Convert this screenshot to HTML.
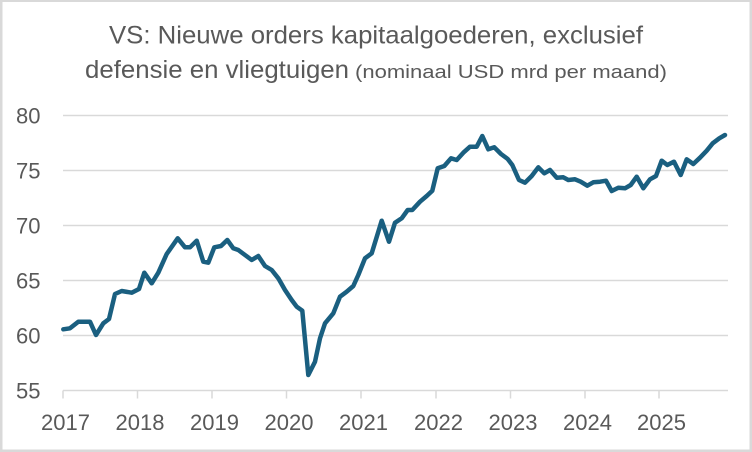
<!DOCTYPE html>
<html>
<head>
<meta charset="utf-8">
<style>
  html, body { margin:0; padding:0; background:#fff; }
  body { width:752px; height:452px; overflow:hidden; }
  svg { display:block; }
  .t { font-family: "Liberation Sans Narrow", "Liberation Sans", sans-serif; fill:#595959; }
  .ax { font-family: "Liberation Sans", sans-serif; fill:#595959; font-size:22px; }
</style>
</head>
<body>
<svg width="752" height="452" viewBox="0 0 752 452" xmlns="http://www.w3.org/2000/svg">
  <rect x="0" y="0" width="752" height="452" fill="#ffffff"/>
  <!-- outer border -->
  <rect x="1.25" y="0.75" width="749.5" height="450" fill="none" stroke="#d9d9d9" stroke-width="2.5"/>

  <!-- title -->
  <text class="t" x="109" y="43.5" font-size="25" textLength="534" lengthAdjust="spacingAndGlyphs">VS: Nieuwe orders kapitaalgoederen, exclusief</text>
  <text class="t" x="85" y="78" font-size="25" textLength="264" lengthAdjust="spacingAndGlyphs">defensie en vliegtuigen</text>
  <text class="t" x="355" y="78" font-size="18.5" textLength="312" lengthAdjust="spacingAndGlyphs">(nominaal USD mrd per maand)</text>

  <!-- gridlines -->
  <g stroke="#d9d9d9" stroke-width="1.5">
    <line x1="63" y1="115.5" x2="728" y2="115.5"/>
    <line x1="63" y1="170.5" x2="728" y2="170.5"/>
    <line x1="63" y1="225.5" x2="728" y2="225.5"/>
    <line x1="63" y1="280.5" x2="728" y2="280.5"/>
    <line x1="63" y1="335.5" x2="728" y2="335.5"/>
    <line x1="63" y1="390.5" x2="728" y2="390.5"/>
    <!-- ticks -->
    <line x1="63" y1="390.5" x2="63" y2="398.5"/>
    <line x1="137.5" y1="390.5" x2="137.5" y2="398.5"/>
    <line x1="212" y1="390.5" x2="212" y2="398.5"/>
    <line x1="286.5" y1="390.5" x2="286.5" y2="398.5"/>
    <line x1="361" y1="390.5" x2="361" y2="398.5"/>
    <line x1="436" y1="390.5" x2="436" y2="398.5"/>
    <line x1="510.5" y1="390.5" x2="510.5" y2="398.5"/>
    <line x1="585" y1="390.5" x2="585" y2="398.5"/>
    <line x1="659" y1="390.5" x2="659" y2="398.5"/>
  </g>

  <!-- y labels -->
  <g class="ax" text-anchor="end">
    <text x="40.5" y="123.5">80</text>
    <text x="40.5" y="178.5">75</text>
    <text x="40.5" y="233.5">70</text>
    <text x="40.5" y="288.5">65</text>
    <text x="40.5" y="343.5">60</text>
    <text x="40.5" y="398.5">55</text>
  </g>

  <!-- x labels -->
  <g class="ax" text-anchor="middle">
    <text x="65.5" y="430">2017</text>
    <text x="140" y="430">2018</text>
    <text x="214.5" y="430">2019</text>
    <text x="289" y="430">2020</text>
    <text x="363.5" y="430">2021</text>
    <text x="438.5" y="430">2022</text>
    <text x="513" y="430">2023</text>
    <text x="587.5" y="430">2024</text>
    <text x="661.5" y="430">2025</text>
  </g>

  <!-- series -->
  <polyline fill="none" stroke="#1a5f80" stroke-width="4.5" stroke-linejoin="round" stroke-linecap="round"
    points="63.3,329.3 70,328.3 78.3,321.7 90,321.7 96,335 103.3,323.3 109,319 115,294 121.7,291 131.7,292.7 139,289 144.3,272.7 151.7,283.3 158.3,272.7 166.7,254 177.7,238.3 185,247.3 190,247.3 196.7,240.7 203.3,261.7 208.3,262.7 214.3,247.3 221,246 227.3,240 233.3,248.3 238.3,250 245,255 251.7,260 258.3,256 265,266 271.7,270 278.3,278.3 285,290 291.7,300 296.7,306.7 302.3,310.7 308.3,375 315,361.7 320,338.3 325,323.3 333.3,313.3 340,296.7 346.7,291.7 353.3,286 358.3,275 365,258.3 371.7,253.3 381.7,220.7 389,241.7 395,222.7 401.7,218.3 407.7,210 412.3,210 420,201.7 426.7,196 432.3,190.7 437.7,168.3 444.3,166 451,158.3 456.7,160 463.3,152.7 470,146.7 476.7,146.7 482.3,136 488.3,149.3 494.3,147.3 501,154 507.7,159 512.3,165 519,180 525,182.7 531.7,176 538.3,167.3 544.3,173.3 550,170 556.7,177.7 563.3,177.3 568.3,180 575,179.3 580.7,181.7 587.3,185.7 593.3,182.3 600,181.7 606,180.7 611.7,191 618.3,187.7 625,188.3 630.7,185 636.7,176.7 643.3,188.3 650,179.3 656,176 661.7,160.7 667.3,165 674,161.7 680.7,175 686.7,159.3 693.3,164 700,157.7 706.7,150.7 712.7,143.3 719.3,138.3 725,135"/>
</svg>
</body>
</html>
